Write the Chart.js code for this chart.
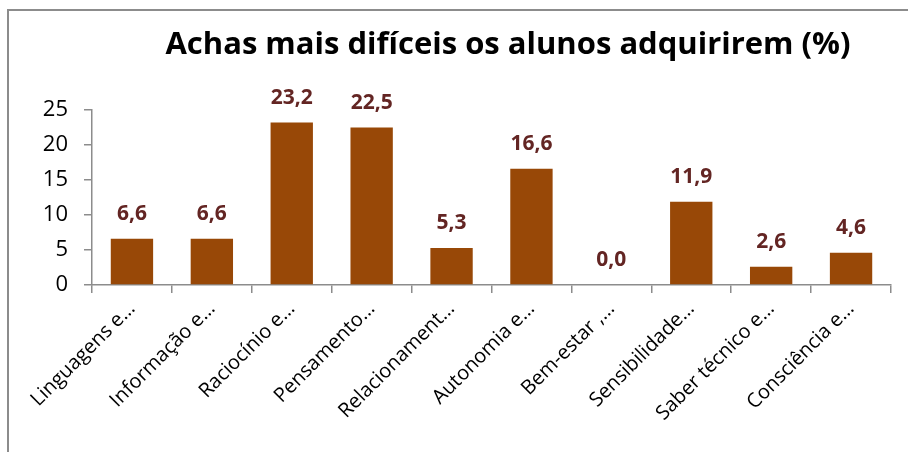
<!DOCTYPE html>
<html>
<head>
<meta charset="utf-8">
<script src="https://cdn.jsdelivr.net/npm/chart.js@4"></script>
<style>
  body { margin: 0; background: #fff; }
  #frame { position: absolute; left: 7px; top: 9px; width: 1000px; height: 1000px; border-left: 2px solid #8c8c8c; border-top: 2px solid #8c8c8c; }
  #wrap { position: absolute; left: 0; top: 0; width: 908px; height: 452px; }
</style>
</head>
<body>
<div id="frame"></div>
<div id="wrap"><canvas id="chart" width="908" height="452"></canvas></div>
<script>
const categories = ['Linguagens e…', 'Informação e…', 'Raciocínio e…', 'Pensamento…', 'Relacionament…',
    'Autonomia e…', 'Bem-estar ,…', 'Sensibilidade…', 'Saber técnico e…', 'Consciência e…'];
const values = [6.6, 6.6, 23.2, 22.5, 5.3, 16.6, 0.0, 11.9, 2.6, 4.6];
const yTicks = [0, 5, 10, 15, 20, 25];
const titleText = 'Achas mais difíceis os alunos adquirirem (%)';

const FONT = "'Open Sans', sans-serif";

// title and value labels
const extras = {
    id: 'extras',
    afterDatasetsDraw(chart) {
        const ctx = chart.ctx;
        ctx.save();
        ctx.fillStyle = '#000';
        ctx.font = 'bold 31px ' + FONT;
        ctx.textAlign = 'center';
        ctx.textBaseline = 'middle';
        ctx.fillText(titleText, 508, 45);

        ctx.fillStyle = '#632523';
        ctx.font = 'bold 21px ' + FONT;
        ctx.textBaseline = 'alphabetic';
        chart.getDatasetMeta(0).data.forEach((bar, i) => {
            ctx.fillText(values[i].toFixed(1).replace('.', ','), bar.x, bar.y - 19);
        });
        ctx.restore();
    }
};

new Chart(document.getElementById('chart'), {
    type: 'bar',
    data: {
        labels: categories,
        datasets: [{
            data: values,
            backgroundColor: '#984807',
            barPercentage: 0.53,
            categoryPercentage: 1
        }]
    },
    options: {
        responsive: false,
        animation: false,
        layout: { padding: { top: 110, right: 17, left: 0, bottom: 0 } },
        plugins: { legend: { display: false }, tooltip: { enabled: false } },
        scales: {
            x: {
                offset: true,
                grid: { offset: true, drawOnChartArea: false, tickLength: 8, color: '#8c8c8c', lineWidth: 1.5 },
                border: { color: '#8c8c8c', width: 1.5 },
                ticks: { color: '#000', font: { family: FONT, size: 20 }, minRotation: 45, maxRotation: 45, autoSkip: false, padding: 4 },
                afterFit(scale) { scale.height = 167; }
            },
            y: {
                min: 0,
                max: 25,
                afterBuildTicks(scale) { scale.ticks = yTicks.map(v => ({ value: v })); },
                grid: { drawOnChartArea: false, tickLength: 8, color: '#8c8c8c', lineWidth: 1.5 },
                border: { color: '#8c8c8c', width: 1.5 },
                ticks: { color: '#000', font: { family: FONT, size: 22 }, padding: 16 },
                afterFit(scale) { scale.width = 92; }
            }
        }
    },
    plugins: [extras]
});
</script>
</body>
</html>
